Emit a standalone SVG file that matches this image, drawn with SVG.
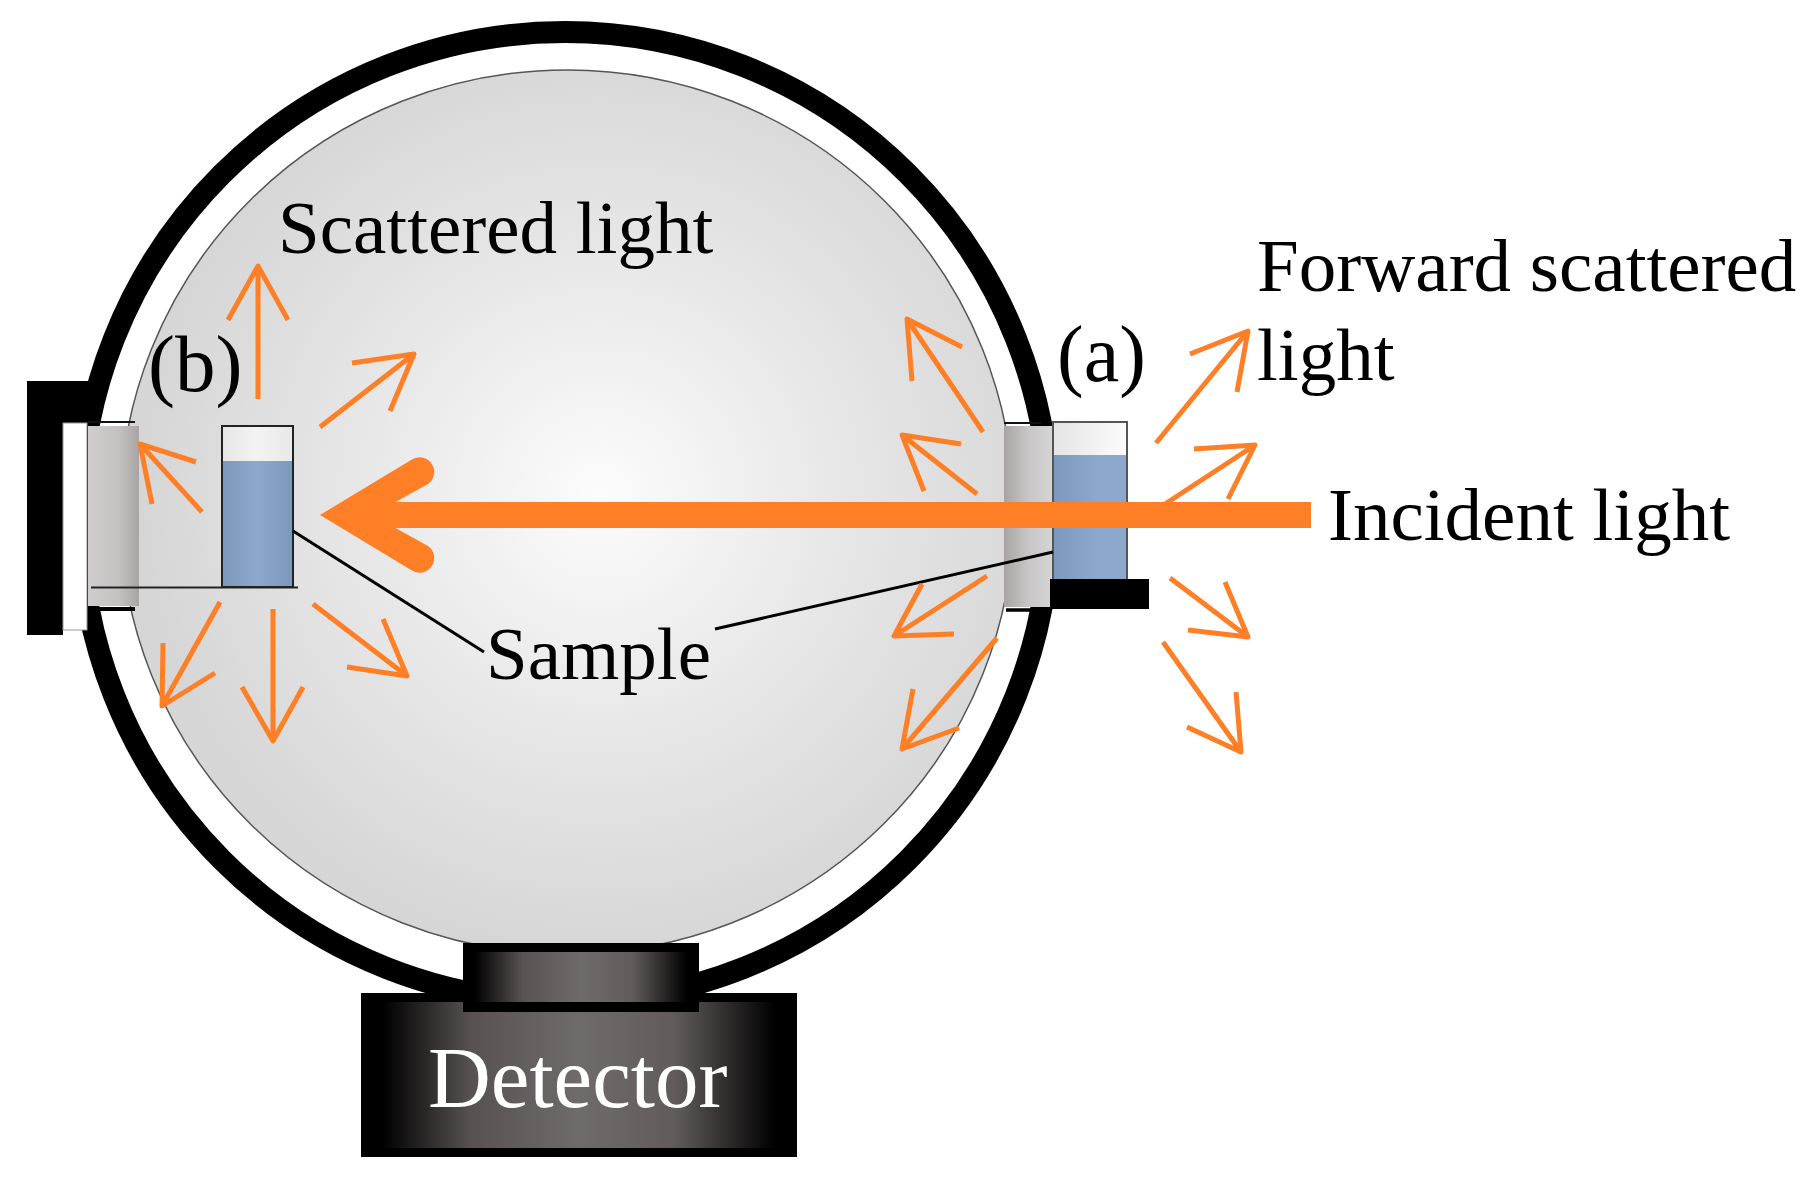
<svg xmlns="http://www.w3.org/2000/svg" width="1817" height="1182" viewBox="0 0 1817 1182">
<style>
text{font-family:"Liberation Serif","Times New Roman",serif;font-size:75px;fill:#000}
.a{fill:none;stroke:#ff7f27;stroke-width:5;stroke-linejoin:round}
.l{fill:none;stroke:#000;stroke-width:3}
.k{fill:#000}
.c{fill:none;stroke:#222;stroke-width:2}
</style>
<defs>
<radialGradient id="sph" gradientUnits="userSpaceOnUse" cx="600" cy="495" r="460"><stop offset="0" stop-color="#fcfcfc"/><stop offset=".5" stop-color="#e8e8e8"/><stop offset="1" stop-color="#d6d6d6"/></radialGradient>
<linearGradient id="pl"><stop offset="0" stop-color="#cfcdcd"/><stop offset=".6" stop-color="#c4c1c1"/><stop offset="1" stop-color="#a8a4a4"/></linearGradient>
<linearGradient id="pr"><stop offset="0" stop-color="#a8a4a4"/><stop offset=".5" stop-color="#c8c6c6"/><stop offset="1" stop-color="#d6d5d5"/></linearGradient>
<linearGradient id="blue"><stop offset="0" stop-color="#7c98bd"/><stop offset=".5" stop-color="#8ca8cc"/><stop offset="1" stop-color="#7a97bc"/></linearGradient>
<linearGradient id="blue2"><stop offset="0" stop-color="#7c98bd"/><stop offset=".6" stop-color="#8ca8cc"/><stop offset="1" stop-color="#8ca8cc"/></linearGradient>
<linearGradient id="air"><stop offset="0" stop-color="#e6e6e6"/><stop offset=".5" stop-color="#f3f3f3"/><stop offset="1" stop-color="#e8e8e8"/></linearGradient>
<linearGradient id="air2"><stop offset="0" stop-color="#e4e4e4"/><stop offset="1" stop-color="#fcfcfc"/></linearGradient>
<linearGradient id="det"><stop offset="0" stop-color="#000"/><stop offset=".05" stop-color="#000"/><stop offset=".25" stop-color="#575251"/><stop offset=".5" stop-color="#706b6b"/><stop offset=".72" stop-color="#615c5b"/><stop offset=".95" stop-color="#000"/><stop offset="1" stop-color="#000"/></linearGradient>
</defs>
<rect width="1817" height="1182" fill="#fff"/>
<g id="sphere">
<circle cx="565" cy="517" r="485" fill="#fff" stroke="#000" stroke-width="22"/>
<ellipse cx="567" cy="512" rx="447" ry="442" fill="url(#sph)" stroke="#555" stroke-width="1.500"/>
</g>
<g id="port-left">
<path class="k" d="M27 381H91V423H63V635H27Z"/>
<rect x="63" y="423" width="24" height="207" fill="#fff" stroke="#999" stroke-width="1"/>
<rect x="88" y="426" width="51" height="180" fill="url(#pl)"/>
<path d="M88 422H135" stroke="#111" stroke-width="2"/>
<path d="M88 609H135" stroke="#000" stroke-width="4"/>
</g>
<g id="port-right">
<rect x="1004" y="426" width="49" height="181" fill="url(#pr)"/>
<path d="M1004 423H1041" stroke="#111" stroke-width="2"/>
<path d="M1006 610H1042" stroke="#000" stroke-width="3.500"/>
</g>
<g id="sample-b">
<rect x="222" y="426" width="71" height="36" fill="url(#air)"/>
<rect x="222" y="461" width="71" height="126" fill="url(#blue)"/>
<rect x="222" y="426" width="71" height="161" class="c"/>
<path d="M91 587.500H298" class="c"/>
</g>
<g id="sample-a">
<rect x="1053" y="422" width="74" height="34" fill="url(#air2)"/>
<rect x="1053" y="455" width="74" height="125" fill="url(#blue2)"/>
<rect x="1053" y="422" width="74" height="158" fill="none" stroke="#555" stroke-width="2"/>
<rect class="k" x="1050" y="579" width="99" height="30"/>
</g>
<g id="connectors">
<path class="l" d="M293 531L484 652"/>
<path class="l" d="M1053 552L715 629"/>
<path class="a" d="M258 399V266M228 320L258 266L288 320"/>
<path class="a" d="M320 427L414 354M352 363L414 354L390 411"/>
<path class="a" d="M202 512L140 444M196 462L140 444L152 504"/>
<path class="a" d="M220 602L162 706M163 643L162 706L215 673"/>
<path class="a" d="M273 609V741M242 687L273 741L303 687"/>
<path class="a" d="M313 604L407 676M383 619L407 676L347 667"/>
<path class="a" d="M983 432L907 319M962 347L907 319L912 381"/>
<path class="a" d="M977 494L902 435M961 444L902 435L924 491"/>
<path class="a" d="M987 576L894 636M922 584L894 636L954 634"/>
<path class="a" d="M997 638L902 749M913 689L902 749L959 728"/>
<path class="a" d="M1156 443L1248 331M1190 354L1248 331L1237 392"/>
<path class="a" d="M1165 504L1255 445M1194 449L1255 445L1228 499"/>
<path class="a" d="M1170 578L1248 637M1225 582L1248 637L1188 630"/>
<path class="a" d="M1163 642L1241 752M1236 692L1241 752L1187 727"/>
<g id="incident-beam" fill="#ff7f27">
<rect x="350" y="502" width="961" height="26"/>
<path d="M320 515L411 460A14 14 0 0 1 428 484L372 515L428 546A14 14 0 0 1 411 570Z"/>
</g>
</g>
<g id="detector">
<rect x="361" y="993" width="436" height="164" fill="#000"/>
<rect x="361" y="1002" width="436" height="146" fill="url(#det)"/>
<rect x="463" y="943" width="236" height="69" fill="#000"/>
<rect x="463" y="952" width="236" height="50" fill="url(#det)"/>
<text x="428" y="1107" style="font-size:87px;fill:#fff">Detector</text>
</g>
<g id="labels">
<text x="278" y="253">Scattered light</text>
<text x="1257" y="291">Forward scattered</text>
<text x="1257" y="380">light</text>
<text x="1328" y="540">Incident light</text>
<text x="486" y="679">Sample</text>
<text x="1057" y="381" style="font-size:80px">(a)</text>
<text x="148" y="391" style="font-size:81px">(b)</text>
</g>
</svg>
